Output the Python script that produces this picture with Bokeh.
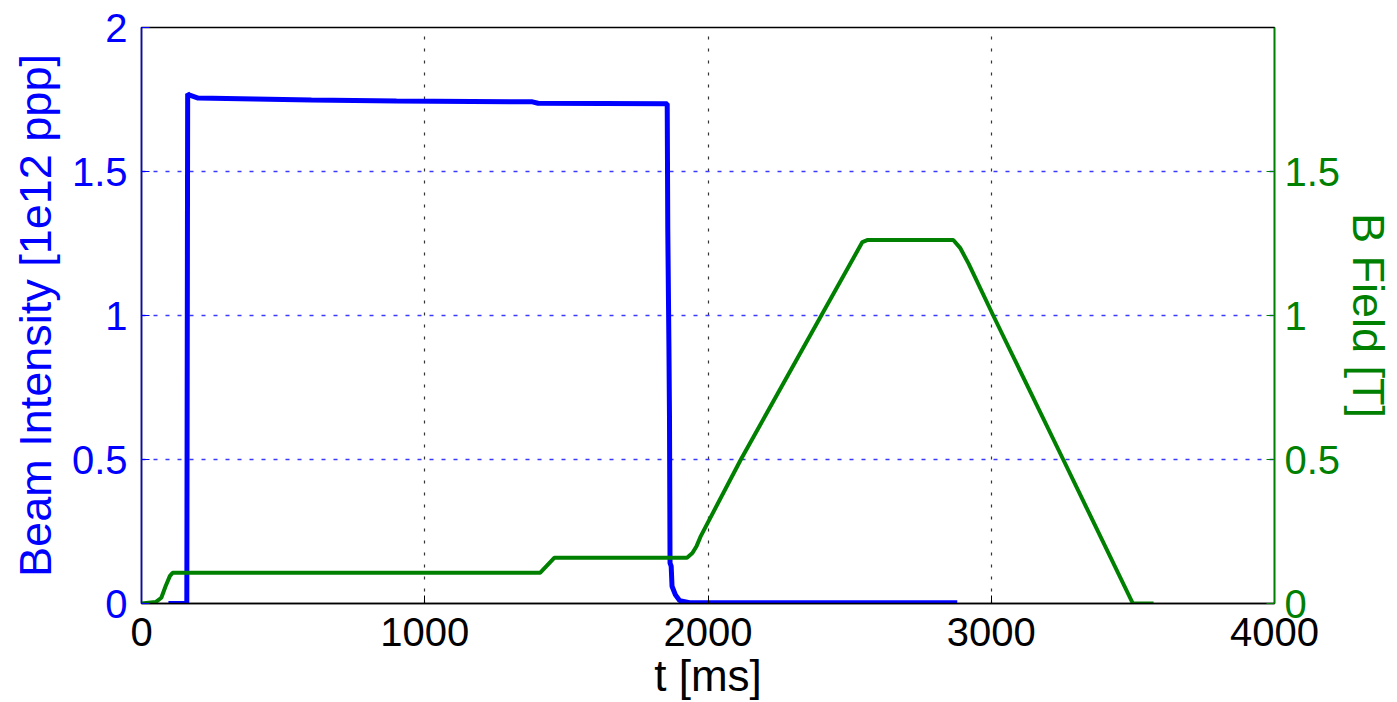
from bokeh.plotting import figure
from bokeh.models import Range1d, LinearAxis, FixedTicker
from bokeh.embed import file_html
from bokeh.resources import INLINE

# Beam intensity [1e12 ppp] vs t [ms]
beam_t = [95, 160, 163, 170, 200, 400, 600, 900, 1380, 1400, 1856, 1858, 1862,
          1864, 1866, 1870, 1873, 1885, 1900, 1935, 2880]
beam_v = [0.0, 0.0, 1.77, 1.765, 1.755, 1.752, 1.748, 1.745, 1.742, 1.737, 1.735,
          1.3, 0.9, 0.65, 0.14, 0.13, 0.06, 0.03, 0.01, 0.003, 0.003]

# B field [T] vs t [ms]
field_t = [0, 50, 70, 85, 100, 110, 1408, 1458, 1926, 1945, 1960, 1975, 2116,
           2400, 2545, 2562, 2866, 2890, 2920, 3007, 3254, 3500, 3573]
field_v = [0.0, 0.005, 0.02, 0.06, 0.095, 0.107, 0.107, 0.159, 0.159, 0.175, 0.2,
           0.235, 0.5, 1.0, 1.255, 1.262, 1.262, 1.235, 1.18, 1.0, 0.5, 0.0, 0.0]

x_ticks = [0, 1000, 2000, 3000, 4000]
left_ticks = [0, 0.5, 1, 1.5, 2]
right_ticks = [0, 0.5, 1, 1.5]

FONT = "Liberation Sans"
BLUE = "#0000ff"
GREEN = "#008000"

p = figure(width=1397, height=702, output_backend="svg", toolbar_location=None,
           x_range=Range1d(0, 4000), y_range=Range1d(0, 2),
           min_border_left=141, min_border_right=120, min_border_top=27,
           min_border_bottom=98)
p.background_fill_color = "white"
p.border_fill_color = "white"
p.outline_line_color = "black"
p.outline_line_width = 1.5

p.extra_y_ranges = {"b": Range1d(0, 2)}

# grids
xg = p.xgrid[0]
xg.ticker = FixedTicker(ticks=x_ticks)
xg.grid_line_color = "#333333"
xg.grid_line_dash = "3 9"
xg.grid_line_width = 1.2
yg = p.ygrid[0]
yg.ticker = FixedTicker(ticks=left_ticks)
yg.grid_line_color = "#3a3aff"
yg.grid_line_alpha = 1.0
yg.grid_line_dash = "4 8"
yg.grid_line_width = 1.5

# x axis
xa = p.xaxis[0]
xa.ticker = FixedTicker(ticks=x_ticks)
xa.axis_label = "t [ms]"
xa.axis_label_text_font = FONT
xa.axis_label_text_font_size = "44px"
xa.axis_label_text_font_style = "normal"
xa.axis_label_text_color = "black"
xa.axis_label_standoff = 2
xa.major_label_text_font = FONT
xa.major_label_text_font_size = "40px"
xa.major_label_text_color = "black"
xa.major_label_standoff = 14
xa.major_tick_in = 8
xa.major_tick_out = 0
xa.major_tick_line_color = "black"
xa.minor_tick_line_color = None
xa.axis_line_color = "black"
xa.axis_line_width = 1.5

# left axis
ya = p.yaxis[0]
ya.ticker = FixedTicker(ticks=left_ticks)
ya.axis_label = "Beam Intensity [1e12 ppp]"
ya.axis_label_text_font = FONT
ya.axis_label_text_font_size = "45px"
ya.axis_label_text_font_style = "normal"
ya.axis_label_text_color = BLUE
ya.axis_label_standoff = 8
ya.major_label_text_font = FONT
ya.major_label_text_font_size = "40px"
ya.major_label_text_color = BLUE
ya.major_label_standoff = 14
ya.major_tick_in = 8
ya.major_tick_out = 0
ya.major_tick_line_color = BLUE
ya.minor_tick_line_color = None
ya.axis_line_color = BLUE
ya.axis_line_width = 1.5

# right axis
ra = LinearAxis(y_range_name="b", ticker=FixedTicker(ticks=right_ticks))
ra.axis_label = "B Field [T]"
ra.axis_label_text_font = FONT
ra.axis_label_text_font_size = "45px"
ra.axis_label_text_font_style = "normal"
ra.axis_label_text_color = GREEN
ra.axis_label_standoff = 0
ra.major_label_text_font = FONT
ra.major_label_text_font_size = "40px"
ra.major_label_text_color = GREEN
ra.major_label_standoff = 10
ra.major_tick_in = 8
ra.major_tick_out = 0
ra.major_tick_line_color = GREEN
ra.minor_tick_line_color = None
ra.axis_line_color = GREEN
ra.axis_line_width = 1.5
p.add_layout(ra, "right")

p.line(beam_t, beam_v, line_color=BLUE, line_width=5)
p.line(field_t, field_v, line_color=GREEN, line_width=4, y_range_name="b")

open("out.html", "w").write(file_html(p, INLINE))
